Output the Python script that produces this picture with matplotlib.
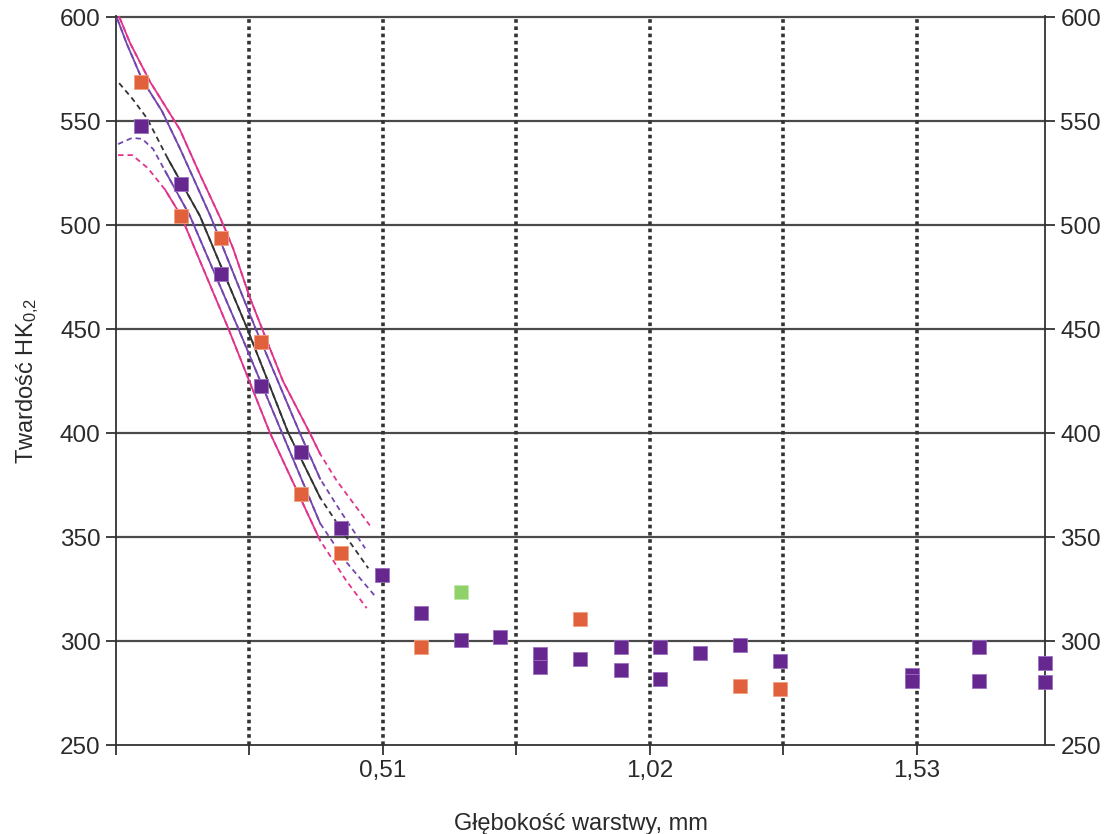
import numpy as np
import matplotlib.pyplot as plt

plt.rcParams['font.family'] = ['Liberation Sans', 'DejaVu Sans']
plt.rcParams['mathtext.default'] = 'regular'

## punkty pomiarowe
fiolet_x = [0.048, 0.124, 0.201, 0.277, 0.353, 0.430, 0.508, 0.583, 0.659, 0.733,
            0.810, 0.810, 0.886, 0.965, 0.965, 1.039, 1.039, 1.115, 1.192, 1.268,
            1.520, 1.520, 1.648, 1.648, 1.775, 1.775]
fiolet_y = [547.6, 519.8, 476.6, 422.8, 391.1, 354.2, 331.6, 313.3, 300.4, 301.8,
            293.9, 287.7, 291.3, 297.0, 286.0, 297.0, 281.8, 294.1, 298.0, 290.3,
            283.8, 281.0, 297.0, 281.0, 289.5, 280.1]
pomar_x = [0.048, 0.124, 0.201, 0.277, 0.353, 0.430, 0.583, 0.886, 1.192, 1.268]
pomar_y = [568.8, 504.4, 493.9, 444.0, 370.5, 342.2, 296.9, 310.6, 278.3, 276.8]
ziel_x = [0.659]
ziel_y = [323.4]

## krzywa dopasowania i przedzialy
srod_x = [0.006, 0.032, 0.059, 0.099, 0.160, 0.250, 0.329, 0.390, 0.440, 0.482]
srod_y = [568.3, 560.6, 551.5, 532.0, 504.6, 450.7, 400.2, 369.0, 350.0, 335.0]
gora1_x = [0.002, 0.021, 0.050, 0.088, 0.122, 0.180, 0.266, 0.351, 0.390, 0.430, 0.476]
gora1_y = [599.5, 587.0, 570.0, 554.8, 537.0, 504.6, 450.7, 400.2, 378.0, 362.0, 344.6]
dol1_x = [0.004, 0.031, 0.050, 0.071, 0.094, 0.141, 0.233, 0.317, 0.390, 0.440, 0.497]
dol1_y = [539.0, 542.0, 541.5, 536.6, 526.0, 504.6, 450.7, 400.2, 356.6, 338.0, 321.0]
gora2_x = [0.000, 0.027, 0.065, 0.122, 0.160, 0.200, 0.2235, 0.256, 0.281, 0.319, 0.370, 0.390, 0.422, 0.485]
gora2_y = [604.0, 587.5, 569.0, 546.0, 524.6, 503.0, 489.0, 465.0, 449.0, 425.0, 400.2, 390.0, 377.0, 355.6]
dol2_x = [0.004, 0.031, 0.061, 0.094, 0.124, 0.214, 0.294, 0.390, 0.440, 0.479]
dol2_y = [533.7, 533.7, 527.4, 517.0, 504.6, 450.7, 400.2, 348.4, 329.0, 315.8]

x_ticks = [0, 0.255, 0.51, 0.765, 1.02, 1.275, 1.53]
x_labels = ['', '', '0,51', '', '1,02', '', '1,53']
y_ticks = [250, 300, 350, 400, 450, 500, 550, 600]

fig = plt.figure(figsize=(11.07, 8.34), dpi=100)
ax = fig.add_axes([0.1048, 0.1067, 0.8392, 0.8741])

def krzywa(xs, ys, kolor, od, do):
    xs = np.array(xs); ys = np.array(ys)
    ax.plot(xs, ys, color=kolor, lw=1.3, ls=(0, (3, 2.2)), zorder=3)
    m = (xs >= od) & (xs <= do)
    ax.plot(xs[m], ys[m], color=kolor, lw=1.3, zorder=3.1)

krzywa(gora2_x, gora2_y, '#e2338c', 0.0, 0.41)
krzywa(dol2_x, dol2_y, '#e2338c', 0.094, 0.39)
krzywa(gora1_x, gora1_y, '#7346b0', 0.0, 0.39)
krzywa(dol1_x, dol1_y, '#7346b0', 0.094, 0.39)
krzywa(srod_x, srod_y, '#333333', 0.099, 0.39)

ax.plot(pomar_x, pomar_y, 's', color='#e0613c', ms=10, mec='#f0a080', mew=0.6, zorder=4, clip_on=False)
ax.plot(fiolet_x, fiolet_y, 's', color='#66288e', ms=10, mec='#9a70c0', mew=0.6, zorder=5, clip_on=False)
ax.plot(ziel_x, ziel_y, 's', color='#8fd26a', ms=10, mec='#c0e8a8', mew=0.6, zorder=5, clip_on=False)

ax.set_xlim(0, 1.775)
ax.set_ylim(250, 600.6)
ax.set_xticks(x_ticks)
ax.set_xticklabels(x_labels)
ax.set_yticks(y_ticks)
for v in y_ticks[1:]:
    ax.axhline(v, color='#4a4a4a', lw=1.6, zorder=1, clip_on=False)
for v in x_ticks[1:]:
    ax.axvline(v, color='#333333', lw=2.6, ls=(0, (1, 1)), zorder=1)

ax.spines['top'].set_visible(False)
for s in ['left', 'right', 'bottom']:
    ax.spines[s].set_color('#333333')
    ax.spines[s].set_linewidth(1.3)
ax.tick_params(axis='both', direction='out', length=7, width=1.3, color='#333333',
               labelsize=17.5, labelcolor='#2a2a2a', pad=4)
ax.tick_params(axis='y', right=True, labelright=True)

ax.set_xlabel('Głębokość warstwy, mm', fontsize=17, color='#2a2a2a', labelpad=22)
ax.set_ylabel('Twardość HK$_{0{,}2}$', fontsize=17, color='#2a2a2a', labelpad=14)

fig.savefig('out.png', dpi=100)
